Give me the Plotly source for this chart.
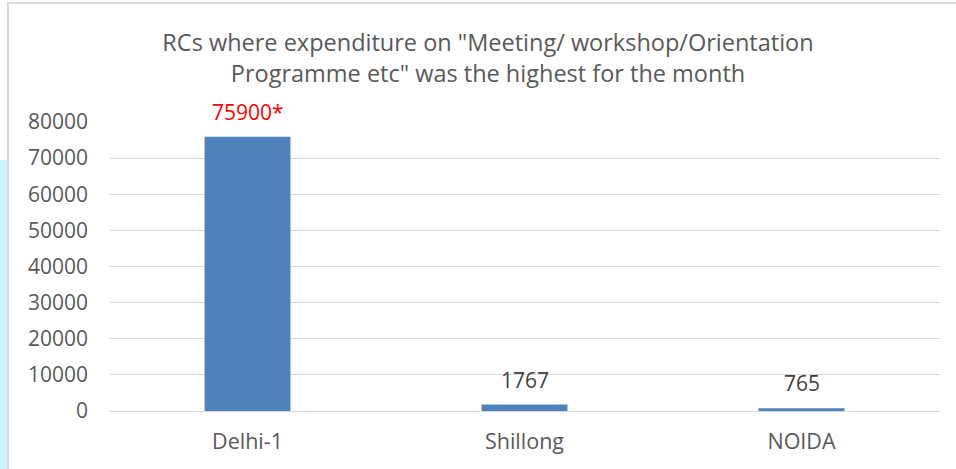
import plotly.graph_objects as go

categories = ["Delhi-1", "Shillong", "NOIDA"]
values = [75900, 1767, 765]
labels = ["75900*", "1767", "765"]
label_colors = ["#ff0000", "#404040", "#404040"]
y_ticks = [0, 10000, 20000, 30000, 40000, 50000, 60000, 70000, 80000]

W, H = 956, 469
L, R, T, B = 109, 16, 122, 58
pw, ph = W - L - R, H - T - B

def px(x):
    return (x - L) / pw

def py(y):
    return (H - B - y) / ph

FONT = "Open Sans"

fig = go.Figure()
fig.add_trace(go.Bar(
    x=categories, y=values,
    marker=dict(color="#4f81bd", line=dict(width=0)),
    width=0.31,
))

for c, v, t, col in zip(categories, values, labels, label_colors):
    fig.add_annotation(x=c, y=v, text=t, showarrow=False, yanchor="bottom",
                       yshift=9, font=dict(family=FONT, size=21, color=col))

# outer chart border
fig.add_shape(type="rect", xref="paper", yref="paper",
              x0=px(8), x1=px(962), y0=py(474), y1=py(3),
              line=dict(color="#d9d9d9", width=2), fillcolor="rgba(0,0,0,0)", layer="below")
# light blue strip on the left
fig.add_shape(type="rect", xref="paper", yref="paper",
              x0=px(-4), x1=px(7), y0=py(474), y1=py(160),
              line=dict(width=0), fillcolor="#cdf3fb", layer="below")

fig.update_layout(
    width=W, height=H,
    margin=dict(l=L, r=R, t=T, b=B),
    paper_bgcolor="white", plot_bgcolor="white",
    showlegend=False,
    title=dict(
        text="RCs where expenditure on \"Meeting/ workshop/Orientation<br>Programme etc\" was the highest for the month",
        x=488 / W, xanchor="center", y=1 - 51 / H, yanchor="top",
        font=dict(family=FONT, size=23.5, color="#595959"),
    ),
    font=dict(family=FONT, size=21, color="#595959"),
)
fig.update_xaxes(showgrid=False, showline=False, ticks="", ticklabelstandoff=15,
                 tickfont=dict(family=FONT, size=21.5, color="#595959"))
fig.update_yaxes(range=[0, 80000], tickvals=y_ticks, ticktext=[str(v) for v in y_ticks],
                 showgrid=True, gridcolor="#d9d9d9", gridwidth=1.3,
                 zeroline=True, zerolinecolor="#d9d9d9", zerolinewidth=1.3,
                 showline=False, ticks="", ticklabelstandoff=20,
                 tickfont=dict(family=FONT, size=21, color="#595959"))

fig.write_html("out.html", config={"displayModeBar": False},
               post_script="document.body.style.margin='0px';document.body.style.overflow='hidden';")
